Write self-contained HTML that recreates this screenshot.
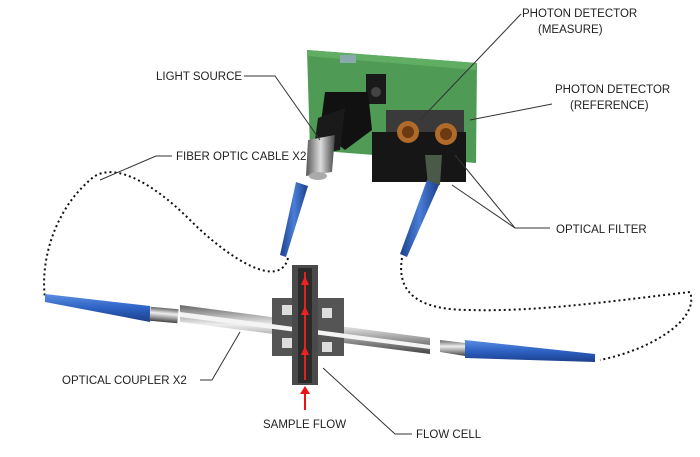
<!DOCTYPE html>
<html><head><meta charset="utf-8"><style>
html,body{margin:0;padding:0;background:#fff;}
svg{display:block;}
text{font-family:"Liberation Sans",sans-serif;font-size:11.5px;fill:#222;}
</style></head><body>
<svg width="700" height="457" viewBox="0 0 700 457" xmlns="http://www.w3.org/2000/svg">
<defs>
<linearGradient id="blue" x1="0" y1="0" x2="0" y2="1"><stop offset="0" stop-color="#5b8ee0"/><stop offset="0.5" stop-color="#2e62c4"/><stop offset="1" stop-color="#1c3f8a"/></linearGradient>
<linearGradient id="bluev" x1="0" y1="0" x2="1" y2="0"><stop offset="0" stop-color="#1c3f8a"/><stop offset="0.5" stop-color="#4a7ed8"/><stop offset="1" stop-color="#1c3f8a"/></linearGradient>
<linearGradient id="metal" x1="0" y1="0" x2="0" y2="1"><stop offset="0" stop-color="#666"/><stop offset="0.4" stop-color="#eee"/><stop offset="1" stop-color="#444"/></linearGradient>
<linearGradient id="metalv" x1="0" y1="0" x2="1" y2="0"><stop offset="0" stop-color="#555"/><stop offset="0.5" stop-color="#ddd"/><stop offset="1" stop-color="#444"/></linearGradient>
</defs>
<path d="M288,258 C280,290 230,260 190,220 C150,180 110,160 90,180 C55,210 40,260 45,298" fill="none" stroke="#111" stroke-width="2" stroke-dasharray="2,3"/>
<path d="M402,258 C395,300 430,310 470,310 C540,312 620,300 690,292 C700,320 650,350 600,360" fill="none" stroke="#111" stroke-width="2" stroke-dasharray="2,3"/>
<polygon points="307,50 477,63 476,163 310,150" fill="#4f9a55"/>
<polygon points="307,50 477,63 476,70 307,56" fill="#5fae64"/>
<rect x="340" y="55" width="16" height="8" fill="#8aa"/>
<rect x="366" y="74" width="20" height="30" fill="#1a1a1a"/>
<circle cx="376" cy="92" r="5" fill="#444"/>
<polygon points="325,92 368,92 372,130 345,150 320,130" fill="#111"/>
<polygon points="318,118 345,108 340,150 313,155" fill="#1a1a1a"/>
<polygon points="308,140 335,135 332,172 306,176" fill="url(#metalv)"/>
<ellipse cx="318" cy="176" rx="9" ry="4" fill="#aaa"/>
<rect x="386" y="110" width="78" height="28" fill="#3a3a3a"/>
<rect x="372" y="132" width="94" height="50" fill="#161616"/>
<circle cx="408" cy="132" r="11" fill="#b06a2a"/><circle cx="408" cy="132" r="6" fill="#6b3a12"/>
<circle cx="446" cy="134" r="11" fill="#b06a2a"/><circle cx="446" cy="134" r="6" fill="#6b3a12"/>
<polygon points="425,155 442,155 440,185 428,185" fill="#4b5a48"/>
<polygon points="296,182 308,186 286,257 280,255" fill="url(#bluev)"/>
<polygon points="427,180 439,185 407,257 400,254" fill="url(#bluev)"/>
<polygon points="45,294 150,306 150,322 45,302" fill="url(#blue)"/>
<rect x="150" y="308" width="28" height="14" fill="url(#metal)" transform="rotate(5 164 315)"/>
<polygon points="180,305 430,338 430,354 180,322" fill="url(#metal)"/>
<rect x="272" y="298" width="72" height="58" fill="#555"/>
<rect x="282" y="305" width="10" height="10" fill="#ddd"/><rect x="322" y="308" width="10" height="10" fill="#ddd"/>
<rect x="282" y="338" width="10" height="10" fill="#ddd"/><rect x="322" y="342" width="10" height="10" fill="#ddd"/>
<polygon points="180,312 430,345 430,349 180,317" fill="#f4f4f4"/>
<rect x="292" y="265" width="26" height="120" fill="#4a4a4a"/>
<rect x="298" y="268" width="14" height="115" fill="#2a2a2a"/>
<line x1="305" y1="272" x2="305" y2="380" stroke="#d22" stroke-width="2"/>
<polygon points="301,285 309,285 305,276" fill="#e22"/><polygon points="301,315 309,315 305,306" fill="#e22"/><polygon points="301,355 309,355 305,346" fill="#e22"/>
<polygon points="440,340 465,343 465,356 440,352" fill="url(#metal)"/>
<polygon points="465,340 595,354 595,362 465,358" fill="url(#blue)"/>
<line x1="305" y1="410" x2="305" y2="392" stroke="#e11" stroke-width="2"/>
<polygon points="300,394 310,394 305,386" fill="#e11"/>
<g stroke="#333" stroke-width="1" fill="none">
<polyline points="244,76 275,76 320,140"/>
<polyline points="172,156 156,156 100,180"/>
<polyline points="521,14 420,120"/>
<polyline points="552,104 470,120"/>
<polyline points="550,228 515,228 455,155"/>
<polyline points="550,228 515,228 452,185"/>
<polyline points="200,380 212,380 240,332"/>
<polyline points="412,434 395,434 323,368"/>
</g>
<text x="156" y="80">LIGHT SOURCE</text>
<text x="522" y="17">PHOTON DETECTOR</text>
<text x="538" y="33">(MEASURE)</text>
<text x="555" y="93">PHOTON DETECTOR</text>
<text x="570" y="109">(REFERENCE)</text>
<text x="176" y="160">FIBER OPTIC CABLE X2</text>
<text x="556" y="233">OPTICAL FILTER</text>
<text x="62" y="384">OPTICAL COUPLER X2</text>
<text x="263" y="428">SAMPLE FLOW</text>
<text x="416" y="438">FLOW CELL</text>
</svg>
</body></html>
